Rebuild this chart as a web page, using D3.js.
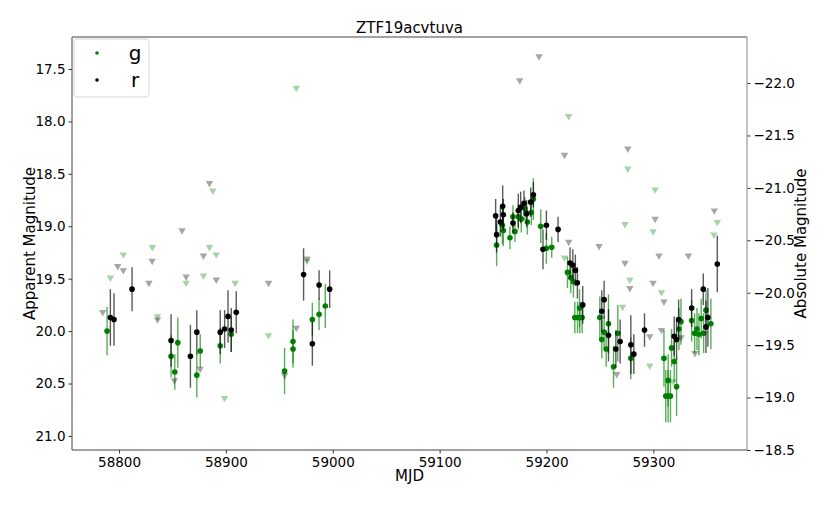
<!DOCTYPE html>
<html>
<head>
<meta charset="utf-8">
<script src="https://cdn.jsdelivr.net/npm/d3@7"></script>
<style>
  body { margin: 0; background: #fff; }
  text { font-family: 'DejaVu Sans', sans-serif; }
</style>
</head>
<body>
<script>
const width = 831
const height = 506
const margin = { top: 37, right: 84, bottom: 56, left: 72 }

const title = 'ZTF19acvtuva'
const distMod = 39.634

// detections: [mjd, mag, err]
const gDet = [
  [58788.8, 20.00, 0.23], [58848.7, 20.24, 0.20], [58855.0, 20.11, 0.24], [58852.2, 20.39, 0.17],
  [58872.8, 20.42, 0.21], [58876.0, 20.19, 0.16], [58894.7, 20.14, 0.17], [58905.0, 20.03, 0.17],
  [58954.9, 20.38, 0.22], [58962.8, 20.10, 0.21], [58962.8, 20.17, 0.18], [58980.9, 19.89, 0.16],
  [58987.2, 19.84, 0.15], [58993.0, 19.76, 0.21], [59153.3, 19.18, 0.20], [59158.7, 18.99, 0.18],
  [59159.6, 19.04, 0.15], [59165.8, 19.11, 0.11], [59168.6, 18.91, 0.11], [59170.5, 19.05, 0.10],
  [59173.6, 18.91, 0.12], [59176.4, 18.93, 0.13], [59179.8, 18.83, 0.11], [59182.1, 18.96, 0.12],
  [59185.8, 18.87, 0.12], [59187.7, 18.74, 0.20], [59194.6, 19.00, 0.16], [59199.9, 19.21, 0.15],
  [59204.9, 19.20, 0.10], [59219.6, 19.44, 0.15], [59222.7, 19.49, 0.15], [59225.2, 19.53, 0.15],
  [59230.9, 19.78, 0.18], [59226.5, 19.87, 0.15], [59229.0, 19.87, 0.15], [59231.1, 19.87, 0.15],
  [59233.3, 19.87, 0.15], [59249.9, 19.87, 0.20], [59251.7, 20.08, 0.18], [59253.9, 20.01, 0.15],
  [59258.0, 19.93, 0.28], [59255.8, 20.17, 0.17], [59262.7, 20.34, 0.20], [59266.7, 20.02, 0.27],
  [59278.9, 20.26, 0.20], [59309.9, 20.26, 0.27], [59313.8, 20.47, 0.25], [59311.6, 20.62, 0.25],
  [59313.8, 20.62, 0.25], [59316.0, 20.62, 0.25], [59321.7, 20.53, 0.28], [59317.0, 20.16, 0.18],
  [59319.5, 20.29, 0.20], [59323.9, 19.98, 0.20], [59325.8, 19.91, 0.22], [59335.8, 19.90, 0.20],
  [59338.6, 20.02, 0.19], [59340.8, 19.98, 0.20], [59342.6, 20.03, 0.20], [59344.8, 19.88, 0.19],
  [59347.0, 20.02, 0.19], [59349.2, 19.80, 0.19], [59353.8, 19.93, 0.24]
]

const rDet = [
  [58791.9, 19.87, 0.27], [58795.3, 19.89, 0.25], [58812.2, 19.60, 0.21], [58848.7, 20.09, 0.25],
  [58866.8, 20.24, 0.30], [58872.8, 20.01, 0.21], [58894.7, 20.01, 0.21], [58898.8, 19.98, 0.18],
  [58902.0, 19.86, 0.25], [58905.0, 19.99, 0.21], [58909.7, 19.82, 0.20], [58972.7, 19.46, 0.25],
  [58980.9, 20.12, 0.21], [58987.2, 19.56, 0.14], [58997.1, 19.60, 0.18], [59152.4, 18.90, 0.16],
  [59153.3, 19.08, 0.17], [59156.8, 18.96, 0.14], [59159.0, 18.81, 0.20], [59159.6, 18.89, 0.15],
  [59168.6, 18.97, 0.10], [59173.6, 18.85, 0.16], [59175.8, 18.82, 0.15], [59178.9, 18.78, 0.12],
  [59181.4, 18.88, 0.13], [59185.2, 18.77, 0.14], [59187.7, 18.70, 0.12], [59196.7, 19.22, 0.19],
  [59199.9, 18.99, 0.14], [59210.8, 19.03, 0.12], [59222.0, 19.35, 0.15], [59224.6, 19.37, 0.15],
  [59227.0, 19.42, 0.15], [59228.9, 19.54, 0.15], [59233.9, 19.75, 0.18], [59253.9, 19.70, 0.18],
  [59251.7, 19.81, 0.20], [59258.0, 20.04, 0.25], [59264.9, 20.17, 0.18], [59268.9, 20.10, 0.21],
  [59278.9, 20.13, 0.28], [59281.7, 20.22, 0.19], [59291.7, 19.99, 0.16], [59319.5, 20.05, 0.19],
  [59321.7, 20.08, 0.19], [59323.6, 19.89, 0.19], [59335.8, 19.78, 0.18], [59346.7, 19.60, 0.15],
  [59349.2, 19.96, 0.25], [59351.0, 19.87, 0.28], [59359.8, 19.36, 0.27]
]

// upper limits: [mjd, mag]
const gLim = [
  [58791.9, 19.49], [58804.0, 19.27], [58831.2, 19.20], [58836.0, 19.86], [58887.8, 18.66],
  [58884.6, 19.20], [58891.0, 19.27], [58879.0, 19.47], [58862.8, 19.54], [58908.7, 19.54],
  [58898.7, 20.64], [58965.9, 17.68], [58939.9, 20.04], [58975.9, 19.33], [59220.8, 17.95],
  [59216.8, 19.30], [59276.1, 18.45], [59301.6, 18.65], [59299.7, 19.05], [59273.4, 18.98],
  [59278.0, 19.51], [59307.6, 19.63], [59271.2, 19.77], [59296.6, 20.33], [59318.3, 20.48],
  [59359.8, 18.96], [59356.7, 19.08]
]

const rLim = [
  [58784.7, 19.82], [58798.8, 19.38], [58804.0, 19.42], [58828.0, 19.54], [58831.0, 19.33],
  [58836.0, 19.89], [58884.6, 18.59], [58859.0, 19.04], [58879.0, 19.28], [58862.8, 19.48],
  [58891.0, 19.51], [58875.9, 20.36], [58851.8, 20.47], [58939.9, 19.54], [58975.9, 19.31],
  [58965.9, 19.97], [58954.9, 20.42], [59193.0, 17.38], [59174.9, 17.61], [59216.8, 18.32],
  [59220.8, 19.15], [59249.2, 19.19], [59276.1, 18.26], [59301.6, 18.93], [59273.4, 19.35],
  [59305.2, 19.28], [59278.0, 19.59], [59299.7, 19.54], [59309.9, 19.72], [59307.6, 19.99],
  [59296.6, 20.05], [59265.7, 20.41], [59332.8, 19.28], [59325.8, 20.06], [59338.9, 20.21],
  [59357.0, 18.85]
]

const xTicks = [58800, 58900, 59000, 59100, 59200, 59300]
const yTicks = [17.5, 18.0, 18.5, 19.0, 19.5, 20.0, 20.5, 21.0]
const absTicks = [-22.0, -21.5, -21.0, -20.5, -20.0, -19.5, -19.0, -18.5]

const x = d3.scaleLinear()
  .domain([58756, 59387.6])
  .range([margin.left, width - margin.right])

const y = d3.scaleLinear()
  .domain([17.195, 21.134])
  .range([margin.top, height - margin.bottom])

const yAbs = d3.scaleLinear()
  .domain([17.195 - distMod, 21.134 - distMod])
  .range([margin.top, height - margin.bottom])

let svg = d3.select('body')
  .append('svg')
    .attr('width', width)
    .attr('height', height)

svg.append('rect')
  .attr('width', width)
  .attr('height', height)
  .attr('fill', 'white')

const tri = d3.symbol().type(d3.symbolTriangle).size(24)

function drawBand(det, lim, color) {
  svg.append('g')
    .selectAll('path')
    .data(lim)
    .join('path')
      .attr('d', tri)
      .attr('transform', (d) => 'translate(' + [x(d[0]), y(d[1])] + ')rotate(180)')
      .attr('fill', color)
      .attr('fill-opacity', 0.35)

  svg.append('g')
    .selectAll('line')
    .data(det)
    .join('line')
      .attr('x1', (d) => x(d[0]))
      .attr('x2', (d) => x(d[0]))
      .attr('y1', (d) => y(d[1] - d[2]))
      .attr('y2', (d) => y(d[1] + d[2]))
      .attr('stroke', color)
      .attr('stroke-opacity', 0.65)
      .attr('stroke-width', 1.4)

  svg.append('g')
    .selectAll('circle')
    .data(det)
    .join('circle')
      .attr('cx', (d) => x(d[0]))
      .attr('cy', (d) => y(d[1]))
      .attr('r', 2.8)
      .attr('fill', color)
}

drawBand(gDet, gLim, 'green')
drawBand(rDet, rLim, 'black')

// axes

const fmt = d3.format('.1f')

let ax = svg.append('g')
  .attr('transform', 'translate(0,' + (height - margin.bottom) + ')')
  .call(d3.axisBottom(x).tickValues(xTicks).tickFormat(d3.format('d')).tickSize(3.5).tickPadding(4))

let ayl = svg.append('g')
  .attr('transform', 'translate(' + margin.left + ',0)')
  .call(d3.axisLeft(y).tickValues(yTicks).tickFormat(fmt).tickSize(3.5).tickPadding(3))

let ayr = svg.append('g')
  .attr('transform', 'translate(' + (width - margin.right) + ',0)')
  .call(d3.axisRight(yAbs).tickValues(absTicks).tickFormat(fmt).tickSize(3.5).tickPadding(3))

for (const g of [ax, ayl, ayr]) {
  g.select('.domain').remove()
  g.selectAll('text').attr('font-size', 13.5).attr('fill', 'black')
    .attr('font-family', 'DejaVu Sans, sans-serif')
  g.selectAll('line').attr('stroke', '#333')
}

// spines
const x0 = margin.left, x1 = width - margin.right
const y0 = margin.top, y1 = height - margin.bottom
svg.append('path').attr('d', `M${x0},${y1}V${y0}H${x1}`).attr('fill', 'none').attr('stroke', '#444').attr('stroke-width', 1)
svg.append('path').attr('d', `M${x0},${y1}H${x1}`).attr('fill', 'none').attr('stroke', '#444').attr('stroke-width', 1)
svg.append('path').attr('d', `M${x1},${y0}V${y1}`).attr('fill', 'none').attr('stroke', '#999').attr('stroke-width', 1.2)

// labels

svg.append('text')
  .attr('x', (x0 + x1) / 2)
  .attr('y', 33)
  .attr('text-anchor', 'middle')
  .attr('font-size', 15)
  .text(title)

svg.append('text')
  .attr('x', (x0 + x1) / 2)
  .attr('y', 481)
  .attr('text-anchor', 'middle')
  .attr('font-size', 15)
  .text('MJD')

svg.append('text')
  .attr('transform', 'translate(35,' + (y0 + y1) / 2 + ')rotate(-90)')
  .attr('text-anchor', 'middle')
  .attr('font-size', 15)
  .text('Apparent Magnitude')

svg.append('text')
  .attr('transform', 'translate(806,' + (y0 + y1) / 2 + ')rotate(-90)')
  .attr('text-anchor', 'middle')
  .attr('font-size', 15)
  .text('Absolute Magnitude')

// legend

let legend = svg.append('g')
legend.append('rect')
  .attr('x', 74).attr('y', 39)
  .attr('width', 75).attr('height', 58)
  .attr('rx', 3)
  .attr('fill', 'white').attr('fill-opacity', 0.8)
  .attr('stroke', '#d6d6d6')

const legendItems = [['g', 'green'], ['r', 'black']]
legend.selectAll('circle')
  .data(legendItems)
  .join('circle')
    .attr('cx', 97)
    .attr('cy', (d, i) => 53 + i * 27)
    .attr('r', 1.8)
    .attr('fill', (d) => d[1])
legend.selectAll('text')
  .data(legendItems)
  .join('text')
    .attr('x', 135)
    .attr('y', (d, i) => 53 + i * 27 + 7)
    .attr('text-anchor', 'middle')
    .attr('font-size', 20)
    .text((d) => d[0])
</script>
</body>
</html>
